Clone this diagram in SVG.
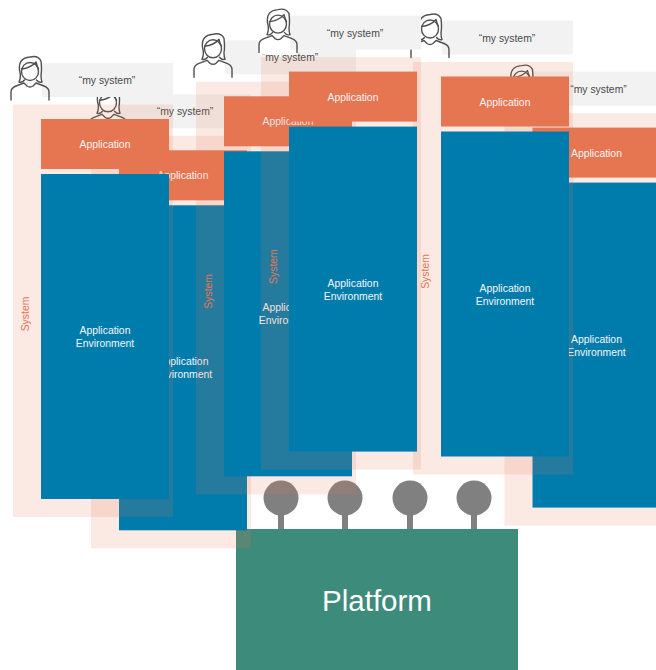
<svg xmlns="http://www.w3.org/2000/svg" xmlns:xlink="http://www.w3.org/1999/xlink" width="656" height="670" viewBox="0 0 656 670">
<style>
text{font-family:"Liberation Sans",Arial,sans-serif;text-anchor:middle}
.band{fill:#e67552;fill-opacity:.16}
.lab{fill:#f2f2f2}
.app{fill:#e67552}
.env{fill:#007cac}
.t{font-size:10.4px;fill:#f6f6f6}
.q{font-size:10.4px;fill:#4a4a4a}
.s{font-size:10.4px;fill:#e67552}
.p{font-size:29.5px;fill:#fff}
.port{fill:#808080}
.ln{fill:none;stroke:#505050;stroke-width:1.4;stroke-linecap:round;stroke-linejoin:round}
</style>
<defs>
<g id="person">
<path class="ln" d="M0 45V37Q0 33 5 31L13 28Q15 30 16 31Q19 33 22 31Q23 30 25 28L33 31Q38 33 38 37V45"/>
<ellipse class="ln" cx="19" cy="16.500" rx="8.500" ry="9"/>
<path class="ln" d="M10.500 14Q20 13 25 7Q26 11 27.500 14"/>
<path class="ln" d="M8 27Q10.500 22 8.500 15Q7 3 19 2Q27 0 30 6Q31 15 30 20Q30 25 31 27Q28 28 25.500 25M8 27Q11 28 13.500 25"/>
</g>
<g id="stack">
<rect x="10" y="55" width="40" height="47" fill="#fff"/>
<rect class="lab" x="42" y="63" width="131" height="34"/>
<use xlink:href="#person" x="11" y="55"/>
<text class="q" x="107" y="84">“my system”</text>
<rect class="band" x="13" y="104.500" width="160" height="412.500"/>
<rect class="app" x="41" y="119" width="128" height="50"/>
<text class="t" x="105" y="148">Application</text>
<rect class="env" x="41" y="174" width="128" height="325"/>
<text class="t" x="105" y="334">Application</text>
<text class="t" x="105" y="347">Environment</text>
<text class="s" transform="translate(28.500 314) rotate(-90)">System</text>
</g>
</defs>
<g id="ports">
<circle class="port" cx="281" cy="498" r="17.500"/>
<circle class="port" cx="345" cy="498" r="17.500"/>
<circle class="port" cx="410" cy="498" r="17.500"/>
<circle class="port" cx="474" cy="498" r="17.500"/>
</g>
<g id="connectors">
<rect class="port" x="278" y="514" width="6" height="16"/>
<rect class="port" x="342" y="514" width="6" height="16"/>
<rect class="port" x="407" y="514" width="6" height="16"/>
<rect class="port" x="471" y="514" width="6" height="16"/>
</g>
<g id="platform">
<rect x="236" y="529" width="282" height="141" fill="#3d8b7a"/>
<text class="p" x="377" y="611">Platform</text>
</g>
<g id="stack-2" transform="translate(78 31.300)"><use xlink:href="#stack"/></g>
<g id="stack-1"><use xlink:href="#stack"/></g>
<g id="stack-3" transform="translate(183 -22.700)"><use xlink:href="#stack"/></g>
<g id="stack-6" transform="translate(491.500 8.600)"><use xlink:href="#stack"/></g>
<g id="stack-5" transform="translate(400 -42.500)"><use xlink:href="#stack"/></g>
<g id="stack-4" transform="translate(248 -47.400)"><use xlink:href="#stack"/></g>
</svg>
